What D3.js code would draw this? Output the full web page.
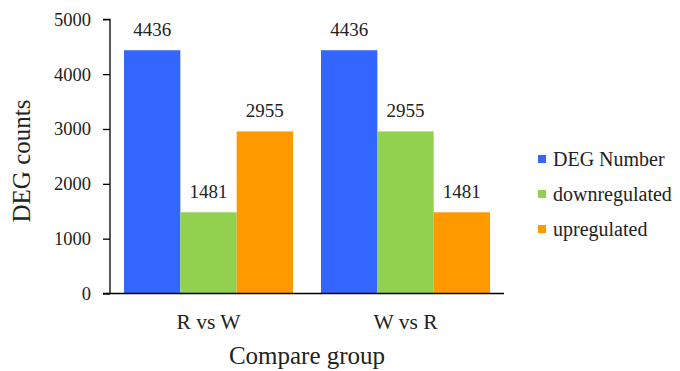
<!DOCTYPE html>
<html>
<head>
<meta charset="utf-8">
<script src="https://cdn.jsdelivr.net/npm/d3@7/dist/d3.min.js"></script>
<style>
  html, body { margin: 0; padding: 0; background: #fff; }
  svg { display: block; }
  svg text { font-family: "Liberation Serif", "Times New Roman", "DejaVu Serif", serif !important; fill: #222; }
</style>
</head>
<body>
<svg id="chart" width="680" height="371"></svg>
<script>
// Differentially expressed gene counts per comparison
const groups = ["R vs W", "W vs R"];
const seriesNames = ["DEG Number", "downregulated", "upregulated"];
const degNumber = [4436, 4436];
const downregulated = [1481, 2955];
const upregulated = [2955, 1481];
const yTicks = [0, 1000, 2000, 3000, 4000, 5000];
const colors = ["#3366FF", "#92D050", "#FF9900"];

const seriesValues = [degNumber, downregulated, upregulated];
const rows = groups.map((g, i) => ({
  group: g,
  values: seriesNames.map((s, j) => ({ series: s, value: seriesValues[j][i] }))
}));

const svg = d3.select("#chart");
const plotL = 110, plotR = 504, plotT = 19.3, plotB = 293.5;

const x0 = d3.scaleBand().domain(groups).range([plotL, plotR])
  .paddingInner(0.142).paddingOuter(0.071);
const x1 = d3.scaleBand().domain(seriesNames).range([0, x0.bandwidth()]);
const y = d3.scaleLinear().domain([0, 5000]).range([plotB, plotT]);
const color = d3.scaleOrdinal().domain(seriesNames).range(colors);

// bars with value labels
const g = svg.append("g");
const grp = g.selectAll("g.grp").data(rows).join("g")
  .attr("transform", d => `translate(${x0(d.group)},0)`);
grp.selectAll("rect").data(d => d.values).join("rect")
  .attr("x", d => x1(d.series))
  .attr("y", d => y(d.value))
  .attr("width", x1.bandwidth())
  .attr("height", d => y(0) - y(d.value))
  .attr("fill", d => color(d.series));
grp.selectAll("text").data(d => d.values).join("text")
  .attr("x", d => x1(d.series) + x1.bandwidth() / 2)
  .attr("y", d => y(d.value) - 14)
  .attr("text-anchor", "middle")
  .style("font-size", "19px")
  .text(d => d.value);

// y axis
const yAxis = svg.append("g").attr("transform", `translate(${plotL},0)`)
  .call(d3.axisLeft(y).tickValues(yTicks).tickSize(7).tickPadding(12).tickFormat(d3.format("d")));
yAxis.selectAll("path.domain").attr("stroke", "#000").attr("stroke-width", 1.3).attr("d", `M-7,${plotT}H0V${plotB}`);
yAxis.selectAll(".tick line").attr("stroke", "#000").attr("stroke-width", 1.3);
yAxis.selectAll(".tick text").style("font-size", "18.5px");

// x axis
const xAxis = svg.append("g").attr("transform", `translate(0,${plotB})`)
  .call(d3.axisBottom(x0).tickSize(0).tickPadding(20));
xAxis.select("path.domain").attr("stroke", "#000").attr("stroke-width", 1.3)
  .attr("d", `M${plotL - 7},0H${plotR}`);
xAxis.selectAll(".tick text").style("font-size", "21.5px");

// axis titles
svg.append("text")
  .attr("x", (plotL + plotR) / 2).attr("y", 364)
  .attr("text-anchor", "middle").style("font-size", "25px")
  .text("Compare group");
svg.append("text")
  .attr("transform", `translate(30,161) rotate(-90)`)
  .attr("text-anchor", "middle").style("font-size", "25px")
  .text("DEG counts");

// legend
const legend = svg.append("g").attr("transform", "translate(538,159)");
const item = legend.selectAll("g").data(seriesNames).join("g")
  .attr("transform", (d, i) => `translate(0,${i * 35})`);
item.append("rect").attr("x", 0).attr("y", -4).attr("width", 8).attr("height", 8)
  .attr("fill", d => color(d));
item.append("text").attr("x", 15).attr("y", 0).attr("dy", "0.33em")
  .style("font-size", "20px").text(d => d);
</script>
</body>
</html>
